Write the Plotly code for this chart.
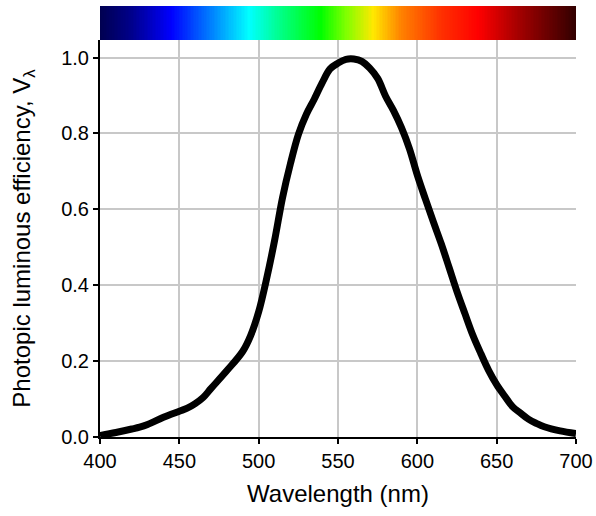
import plotly.graph_objects as go

wavelength = [400, 410, 420, 425, 430, 440, 450, 455, 460, 465, 470, 480, 490, 495,
              500, 505, 510, 515, 520, 525, 530, 535, 540, 545, 550, 555, 560, 565,
              570, 575, 580, 585, 590, 595, 600, 605, 610, 615, 620, 625, 630, 635,
              640, 645, 650, 655, 660, 665, 670, 675, 680, 690, 700]
efficiency = [0.004, 0.012, 0.021, 0.026, 0.033, 0.052, 0.068, 0.076, 0.088, 0.104, 0.128, 0.175, 0.226, 0.268,
              0.33, 0.417, 0.517, 0.63, 0.72, 0.797, 0.85, 0.89, 0.933, 0.97, 0.985, 0.995, 0.996, 0.99,
              0.972, 0.945, 0.898, 0.86, 0.815, 0.76, 0.69, 0.628, 0.568, 0.51, 0.447, 0.383, 0.325, 0.268,
              0.22, 0.175, 0.138, 0.108, 0.08, 0.063, 0.047, 0.036, 0.027, 0.016, 0.009]

spectrum_nm = list(range(400, 701))
spectrum_stops_nm = [400, 420, 445, 470, 494, 515, 539, 555, 572, 590, 615, 638, 660, 680, 700]
spectrum_colors = ["#000050", "#00008c", "#0000ff", "#0080ff", "#00ffff", "#00ff80", "#00ff00",
                   "#80ff00", "#ffe800", "#ff8000", "#ff3000", "#ff0000", "#b00000", "#700000", "#300000"]

x_ticks = [400, 450, 500, 550, 600, 650, 700]
y_ticks = [0.0, 0.2, 0.4, 0.6, 0.8, 1.0]

colorscale = [[(w - 400) / 300, c] for w, c in zip(spectrum_stops_nm, spectrum_colors)]

fig = go.Figure()
fig.add_trace(go.Heatmap(x=spectrum_nm, y=[0], z=[spectrum_nm], colorscale=colorscale,
                         zmin=400, zmax=700, showscale=False, yaxis="y2", hoverinfo="skip"))
fig.add_trace(go.Scatter(x=wavelength, y=efficiency, mode="lines",
                         line=dict(color="black", width=7, shape="spline", smoothing=1.0),
                         cliponaxis=False, showlegend=False))

font = dict(family="Liberation Sans, Arial, sans-serif", size=20, color="black")
fig.update_layout(
    width=596, height=516,
    margin=dict(l=100, r=20, t=6, b=79, autoexpand=False),
    paper_bgcolor="white", plot_bgcolor="white",
    font=font,
    showlegend=False,
    xaxis=dict(range=[400, 700], tickvals=x_ticks, showgrid=True, gridcolor="#c8c8c8", gridwidth=1.5,
               showline=True, linecolor="black", linewidth=2, ticks="outside", ticklen=5,
               tickwidth=2, tickcolor="black", zeroline=False, automargin=False,
               title=dict(text="Wavelength (nm)", standoff=14)),
    yaxis=dict(range=[0, 1.046], domain=[0, 0.921], tickvals=y_ticks, tickformat=".1f",
               showgrid=True, gridcolor="#c8c8c8", gridwidth=1.5,
               showline=True, linecolor="black", linewidth=2, ticks="outside", ticklen=5,
               tickwidth=2, tickcolor="black", zeroline=False, automargin=False,
               title=dict(text="Photopic luminous efficiency, V<sub>λ</sub>", standoff=24)),
    yaxis2=dict(domain=[0.921, 1], range=[-0.5, 0.5], showticklabels=False, showgrid=False,
                zeroline=False, anchor="x"),
)

fig.write_html("out.html", config={"displayModeBar": False},
               post_script="document.body.style.margin='0';document.body.style.padding='0';")
